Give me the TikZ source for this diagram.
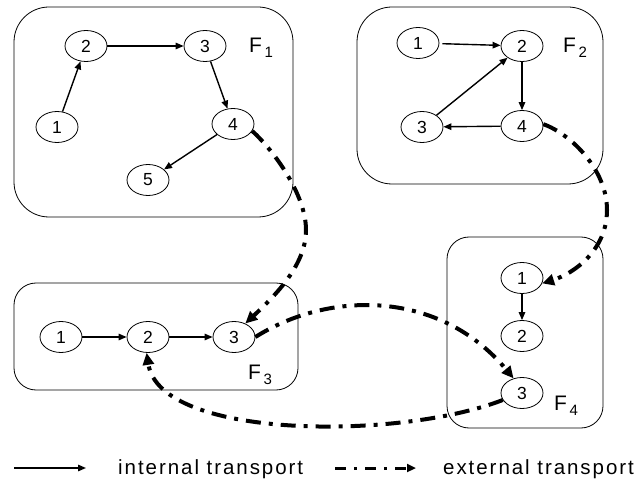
\documentclass[tikz,border=0pt]{standalone}
\usepackage{fontspec}
\setmainfont{Liberation Sans}
\usetikzlibrary{arrows.meta,shapes.geometric}
% facility label: F with a lowered index
\newcommand{\faclabel}[1]{F\hspace{2.5pt}\raisebox{-5pt}{\fontsize{15}{15}\selectfont #1}}
\begin{document}
\begin{tikzpicture}[x=1pt,y=-1pt,
  site/.style={draw,line width=0.8pt,rounded corners=#1},
  stn/.style={ellipse,draw,line width=0.8pt,minimum width=42pt,minimum height=31pt,
    inner sep=0pt,font=\fontsize{17.5}{17.5}\selectfont},
  inner/.style={line width=1.4pt,-{Triangle[length=8pt,width=6.5pt]}},
  outer/.style={line width=4pt,dash pattern=on 15pt off 8pt on 4pt off 8pt,
    -{Triangle[length=12pt,width=11pt]}},
  fac/.style={anchor=base west,inner sep=0pt,font=\fontsize{21}{21}\selectfont},
  legtext/.style={anchor=base west,inner sep=0pt,
    font=\fontsize{20.5}{20.5}\selectfont\addfontfeature{LetterSpace=9.5}}
]
\useasboundingbox (0,0) rectangle (640,481);

% facility outlines
\draw[site=35pt] (14,7) rectangle (293,217);
\draw[site=35pt] (357,7) rectangle (603,184);
\draw[site=22pt] (14,283) rectangle (298,390);
\draw[site=22pt] (447,237) rectangle (603,428);

% F1
\node[stn] (a1) at (57,127) {1};
\node[stn] (a2) at (86,46) {2};
\node[stn] (a3) at (205,46) {3};
\node[stn] (a4) at (233,124) {4};
\node[stn] (a5) at (148,180) {5};
\node[fac] (fa) at (249,53) {\faclabel{1}};
\draw[inner] (a1) -- (a2);
\draw[inner] (a2) -- (a3);
\draw[inner] (a3) -- (a4);
\draw[inner] (a4) -- (a5);

% F2
\node[stn] (b1) at (418,43) {1};
\node[stn] (b2) at (522,46) {2};
\node[stn] (b3) at (422,127) {3};
\node[stn] (b4) at (522,126) {4};
\node[fac] (fb) at (563,53) {\faclabel{2}};
\draw[inner,shorten <=3pt] (b1) -- (b2);
\draw[inner] (b2) -- (b4);
\draw[inner] (b4) -- (b3);
\draw[inner] (b3) -- (b2);

% F3
\node[stn] (c1) at (61,337) {1};
\node[stn] (c2) at (148,337) {2};
\node[stn] (c3) at (234,337) {3};
\node[fac] (fc) at (248,379) {\faclabel{3}};
\draw[inner] (c1) -- (c2);
\draw[inner] (c2) -- (c3);

% F4
\node[stn] (d1) at (522,278) {1};
\node[stn] (d2) at (522,336) {2};
\node[stn] (d3) at (522,393) {3};
\node[fac] (fd) at (554,410) {\faclabel{4}};
\draw[inner] (d1) -- (d2);

% transport between facilities
\draw[outer] (a4.-20) .. controls +(22,20) and +(0,-35) .. (306,230)
  .. controls +(0,35) and +(30,-28) .. (c3.50);
\draw[outer] (b4.5) .. controls +(28,10) and +(0,-40) .. (607,210)
  .. controls +(0,40) and +(32,-10) .. (d1.-15);
\draw[outer] (c3.0) .. controls (330,290) and (440,290) .. (d3.120);
\draw[outer] (d3.200) .. controls (400,440) and (160,440) .. (c2.-95);

% legend
\coordinate (l1) at (14,468);
\coordinate (l2) at (86,468);
\coordinate (l3) at (335,468);
\coordinate (l4) at (416,468);
\draw[inner] (l1) -- (l2);
\node[legtext] (t1) at (118,474) {internal transport};
\draw[outer,line width=3pt,dash pattern=on 11pt off 8pt on 3pt off 8pt,
  -{Triangle[length=9pt,width=8pt]}] (l3) -- (l4);
\node[legtext] (t2) at (443,474) {external transport};
\end{tikzpicture}
\end{document}
